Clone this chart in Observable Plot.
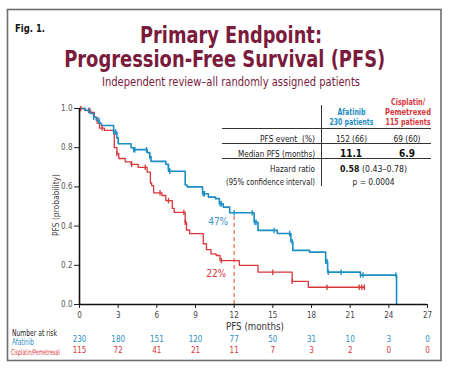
<!DOCTYPE html>
<html>
<head>
<meta charset="utf-8">
<script src="https://cdn.jsdelivr.net/npm/d3@7"></script>
<script src="https://cdn.jsdelivr.net/npm/@observablehq/plot@0.6"></script>
<style>
  html, body { margin: 0; padding: 0; background: #fff; }
  #chart { width: 450px; height: 371px; }
</style>
</head>
<body>
<div id="chart"></div>
<script>
// ---- Data ----
const months = [0, 3, 6, 9, 12, 15, 18, 21, 24, 27];
const yTicks = [0, 0.2, 0.4, 0.6, 0.8, 1.0];
const afatinibRisk = [230, 180, 151, 120, 77, 50, 31, 10, 3, 0];
const cisplatinRisk = [115, 72, 41, 21, 11, 7, 3, 2, 0, 0];

// Kaplan-Meier steps [month, survival]
const afatinibSteps = [[0,1.0],[0.45,0.99],[0.85,0.975],[1.1,0.955],[1.3,0.94],[1.55,0.925],[1.7,0.913],[2.65,0.88],[2.9,0.85],[3.0,0.82],[4.0,0.80],[4.2,0.79],[5.25,0.775],[5.45,0.755],[5.55,0.73],[6.7,0.715],[6.9,0.69],[7.0,0.68],[8.2,0.61],[8.35,0.60],[9.55,0.565],[10.0,0.548],[10.55,0.54],[10.85,0.514],[11.15,0.497],[11.65,0.468],[13.55,0.42],[13.85,0.378],[15.35,0.362],[16.4,0.32],[16.55,0.276],[17.85,0.267],[19.1,0.22],[19.25,0.165],[21.8,0.15],[24.6,0.15],[24.6,0]];
const cisplatinSteps = [[0,1.0],[0.4,0.99],[0.85,0.98],[1.15,0.955],[1.37,0.925],[1.55,0.90],[1.93,0.888],[2.65,0.87],[2.7,0.80],[2.9,0.77],[3.05,0.745],[3.55,0.728],[4.0,0.715],[4.55,0.70],[5.25,0.675],[5.5,0.62],[5.6,0.607],[5.75,0.57],[6.4,0.556],[6.7,0.53],[7.2,0.49],[7.35,0.47],[8.2,0.42],[8.3,0.38],[8.55,0.362],[9.6,0.31],[9.85,0.28],[10.2,0.258],[10.6,0.25],[10.9,0.224],[12.4,0.20],[13.85,0.165],[16.5,0.118],[17.75,0.088],[22.1,0.088]];

const afatinibCensor = [0.7, 1.1, 1.5, 2.65, 2.8, 4.2, 4.3, 5.2, 5.45, 6.9, 7.0, 9.6, 9.7, 10.9, 11.0, 12.0, 13.4, 13.6, 13.7, 15.1, 16.3, 16.5, 19.1, 19.2, 19.3, 20.3, 21.8, 22.0, 24.55];
const cisplatinCensor = [0.1, 0.8, 1.75, 2.9, 4.05, 5.1, 6.25, 6.9, 8.1, 8.2, 11.0, 15.0, 16.5, 19.2, 21.7, 21.9, 22.1];

const landmark = 12;

const blue = "#1b8dc3";
const red = "#d9353a";
const maroon = "#7a1b3c";
const orange = "#ec6a3c";
const FONT = "'Liberation Sans Narrow','DejaVu Sans Condensed','Roboto',sans-serif";

// ---- helpers ----
function stepAt(steps, t) {
  let v = steps[0][1];
  for (const [x, s] of steps) { if (x <= t && !(x === t && s === 0)) v = s; }
  return v;
}
const toObj = steps => steps.map(([t, s]) => ({t, s}));
const censorObj = (times, steps) => times.map(t => ({t, s: stepAt(steps, t)}));
const afCens = censorObj(afatinibCensor, afatinibSteps);
const cpCens = censorObj(cisplatinCensor, cisplatinSteps);
const afAt12 = stepAt(afatinibSteps, landmark);
const cpAt12 = stepAt(cisplatinSteps, landmark);
const riskRows = months.map((m, i) => ({m, a: afatinibRisk[i], c: cisplatinRisk[i]}));

const tickLen = 0.014;

const svg = Plot.plot({
  width: 450, height: 371,
  marginLeft: 79, marginRight: 23, marginTop: 108, marginBottom: 67,
  style: {fontFamily: FONT, fontSize: "8px", background: "transparent", overflow: "visible"},
  x: {domain: [0, 27]},
  y: {domain: [0, 1]},
  marks: [
    Plot.axisX({ticks: months, tickSize: 4, tickPadding: 4, fontSize: 8, color: "#444", stroke: "#222", label: null}),
    Plot.axisY({ticks: yTicks, tickSize: 5, tickPadding: 2, fontSize: 8, color: "#555", stroke: "#222", tickFormat: d3.format(".1f"), label: null}),
    Plot.ruleX([landmark], {y1: 0, y2: afAt12, stroke: orange, strokeWidth: 1.2, strokeDasharray: "4,3"}),
    Plot.line(toObj(cisplatinSteps), {x: "t", y: "s", curve: "step-after", stroke: red, strokeWidth: 1.3}),
    Plot.line(toObj(afatinibSteps), {x: "t", y: "s", curve: "step-after", stroke: blue, strokeWidth: 1.6}),
    Plot.link(cpCens, {x1: "t", x2: "t", y1: d => d.s - tickLen, y2: d => d.s + tickLen, stroke: red, strokeWidth: 1.3}),
    Plot.link(afCens, {x1: "t", x2: "t", y1: d => d.s - tickLen, y2: d => d.s + tickLen, stroke: blue, strokeWidth: 1.3}),
    Plot.ruleY([0], {stroke: "#111", strokeWidth: 1.6}),
    Plot.ruleX([0], {stroke: "#111", strokeWidth: 1.6}),
    Plot.text([afAt12], {x: () => landmark, y: d => d, text: d => Math.round(d * 100) + "%", dx: -16, dy: 9, fill: "#3a8fc4", fontSize: 10}),
    Plot.text([cpAt12], {x: () => landmark, y: d => d, text: d => Math.round(d * 100) + "%", dx: -18, dy: 13, fill: red, fontSize: 10}),
    Plot.text(riskRows, {x: "m", text: "a", frameAnchor: "bottom", dy: 37.5, fill: "#2a8fc4", fontSize: 8}),
    Plot.text(riskRows, {x: "m", text: "c", frameAnchor: "bottom", dy: 48, fill: red, fontSize: 8})
  ]
});

const s = d3.select(svg);
function txt(x, y, str, opts = {}) {
  const t = s.append("text").attr("x", x).attr("y", y).text(str)
    .attr("font-family", FONT)
    .attr("font-size", opts.size || 9)
    .attr("fill", opts.fill || "#222")
    .attr("text-anchor", opts.anchor || "start")
    .attr("font-weight", opts.weight || "normal");
  if (opts.len) t.attr("textLength", opts.len).attr("lengthAdjust", "spacingAndGlyphs");
  if (opts.rotate) t.attr("transform", `rotate(${opts.rotate},${x},${y})`);
  if (opts.sx) t.attr("transform", `translate(${x},${y}) scale(${opts.sx},1) translate(${-x},${-y})`);
  return t;
}
function line(x1, y1, x2, y2, stroke = "#333", w = 1) {
  s.append("line").attr("x1", x1).attr("y1", y1).attr("x2", x2).attr("y2", y2)
    .attr("stroke", stroke).attr("stroke-width", w);
}

// frame
s.insert("rect", ":first-child").attr("x", 7.5).attr("y", 9.5).attr("width", 433.5).attr("height", 351)
  .attr("fill", "none").attr("stroke", "#6e6e6e").attr("stroke-width", 1.6);

// titles
txt(15, 32, "Fig. 1.", {size: 11, weight: "bold", fill: "#111", len: 30});
txt(231, 43, "Primary Endpoint:", {size: 22.5, weight: "bold", fill: maroon, anchor: "middle", len: 182});
txt(224.7, 67, "Progression-Free Survival (PFS)", {size: 22.5, weight: "bold", fill: maroon, anchor: "middle", len: 321});
txt(231, 86, "Independent review\u2013all randomly assigned patients", {size: 12.5, fill: maroon, anchor: "middle", len: 258});

// axis labels
txt(255, 330, "PFS (months)", {size: 10, fill: "#333", anchor: "middle", len: 58});
txt(59, 205, "PFS (probability)", {size: 9, fill: "#444", anchor: "middle", rotate: -90, len: 62});

// number at risk labels
txt(12, 336, "Number at risk", {size: 8.5, fill: "#222", len: 45});
txt(12, 344.5, "Afatinib", {size: 8.5, fill: "#2a8fc4", len: 22});
txt(11, 355, "Cisplatin/Pemetrexal", {size: 8, fill: red, sx: 0.66});

// table
line(222, 128.5, 431, 128.5, "#333", 1);
line(222, 143.5, 431, 143.5, "#333", 1);
line(222, 158.5, 431, 158.5, "#333", 1);
line(321.5, 105, 321.5, 186, "#333", 1);
txt(351.5, 114.5, "Afatinib", {size: 9.5, weight: "bold", fill: blue, anchor: "middle", len: 28});
txt(351.5, 124.5, "230 patients", {size: 9.5, weight: "bold", fill: blue, anchor: "middle", len: 44});
txt(408, 104.5, "Cisplatin/", {size: 9.5, weight: "bold", fill: red, anchor: "middle", len: 34});
txt(408, 114.5, "Pemetrexed", {size: 9.5, weight: "bold", fill: red, anchor: "middle", len: 46});
txt(408, 124.5, "115 patients", {size: 9.5, weight: "bold", fill: red, anchor: "middle", len: 45});

txt(315, 141.5, "PFS event  (%)", {size: 9.5, anchor: "end", len: 55});
txt(351.5, 141.5, "152 (66)", {size: 9.5, anchor: "middle", len: 31});
txt(407, 141.5, "69 (60)", {size: 9.5, anchor: "middle", len: 27});

txt(315, 156.5, "Median PFS (months)", {size: 9.5, anchor: "end", len: 77});
txt(351, 156.5, "11.1", {size: 10, weight: "bold", anchor: "middle", fill: "#111"});
txt(407, 156.5, "6.9", {size: 10, weight: "bold", anchor: "middle", fill: "#111"});

txt(315, 172, "Hazard ratio", {size: 9.5, anchor: "end", len: 45});
txt(315, 184.5, "(95% confidence interval)", {size: 9.5, anchor: "end", len: 89});
const hr = txt(373.5, 172, "", {size: 9.5, anchor: "middle", len: 67});
hr.append("tspan").attr("font-weight", "bold").attr("fill", "#111").text("0.58");
hr.append("tspan").text(" (0.43\u20130.78)");
txt(373.5, 184.5, "p = 0.0004", {size: 9.5, anchor: "middle", len: 42});

document.getElementById("chart").appendChild(svg);
</script>
</body>
</html>
